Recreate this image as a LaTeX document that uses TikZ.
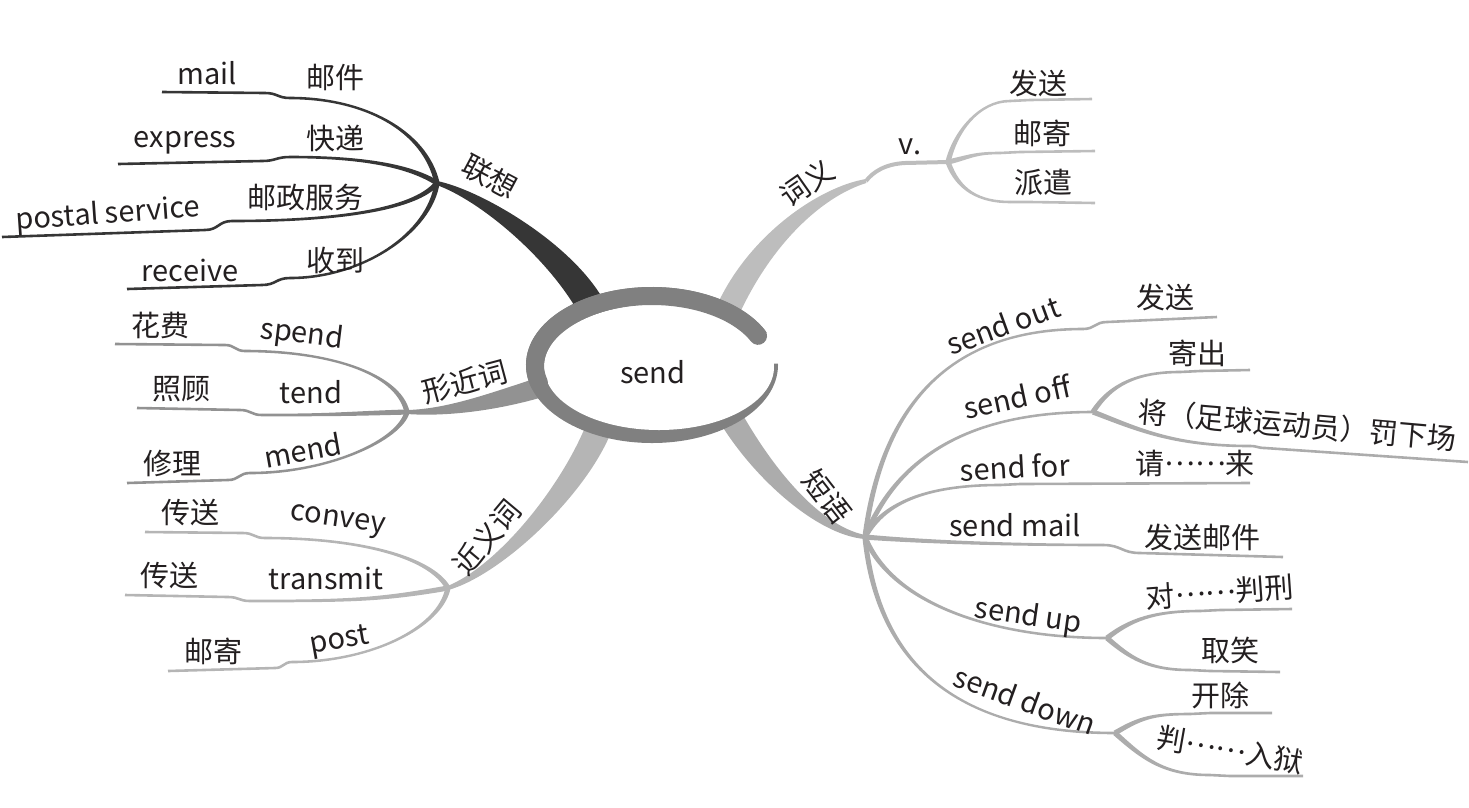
\documentclass[tikz,border=0pt]{standalone}
\usepackage{fontspec}
\setmainfont{Noto Sans CJK SC}
\usetikzlibrary{calc}

\definecolor{ink}{HTML}{231F20}
\definecolor{ringgray}{HTML}{808080}
\definecolor{lianxiang}{HTML}{363636}
\definecolor{xingjin}{HTML}{929292}
\definecolor{jinyi}{HTML}{B5B5B5}
\definecolor{ciyi}{HTML}{BDBDBD}
\definecolor{duanyu}{HTML}{ACACAC}

\tikzset{
  word/.style={font=\fontsize{29}{34}\selectfont, text=ink, inner sep=0pt},
}

% tapered stroke: colour, end A, ctrl, ctrl, end B, half widths at A, ctrl, B
\newcommand{\mmtaper}[8]{%
  \fill[#1] ($(#2)!#6!90:(#3)$) .. controls ($(#3)!#7!-90:(#2)$) and ($(#4)!#8!90:(#5)$) .. ($(#5)!#8!-90:(#4)$)
    -- ($(#5)!#8!90:(#4)$) .. controls ($(#4)!#8!-90:(#5)$) and ($(#3)!#7!90:(#2)$) .. ($(#2)!#6!-90:(#3)$) -- cycle;}

% leaf line: colour, hub, ctrl, name (uses name j, name k, name e)
\newcommand{\mmleaf}[4]{%
  \coordinate (q) at ($(#4j)!0.5!(#4j-|#2)$);
  \coordinate (m) at ($(#4j)!0.5!(#4k)$);
  \mmtaper{#1}{#2}{#3}{q}{#4j}{2.6pt}{2.2pt}{1.3pt}
  \draw[#1, line width=2.6pt] (#4j) .. controls (m|-#4j) and (m|-#4k) .. (#4k) -- (#4e);}

% raised dots
\newcommand{\mdots}{\raisebox{.3em}{……}}

\begin{document}
\begin{tikzpicture}[x=1pt,y=-1pt]
\useasboundingbox (0,0) rectangle (1469,807);

% hubs and roots
\coordinate (lxhub) at (437,183);  \coordinate (lxroot) at (592,308);
\coordinate (xjhub) at (407,412);  \coordinate (xjroot) at (548,385);
\coordinate (jyhub) at (448,588);  \coordinate (jyroot) at (600,425);
\coordinate (cyhub) at (948,162);  \coordinate (cyknee) at (866,181);
\coordinate (cyroot) at (728,310);
\coordinate (dyhub) at (865,537);  \coordinate (dyroot) at (722,402);

% trunks
\mmtaper{lianxiang}{lxhub}{480,195}{560,250}{lxroot}{2pt}{5pt}{14pt}
\mmtaper{xingjin}{xjhub}{450,413}{500,400}{xjroot}{2pt}{4pt}{10pt}
\mmtaper{jinyi}{jyhub}{500,570}{575,490}{jyroot}{2pt}{5pt}{13pt}
\mmtaper{ciyi}{cyknee}{820,192}{760,240}{cyroot}{2pt}{5pt}{12pt}
\mmtaper{duanyu}{dyhub}{815,530}{755,465}{dyroot}{2pt}{5pt}{12pt}
\draw[ciyi, line width=4pt] (cyknee) .. controls (873,172) and (885,164) .. (905,163) -- (cyhub);

% leaves
\foreach \w/\c/\j/\k/\e in {mail/{425,130}/{290,98}/{265,93}/{162,92},
    express/{410,166}/{290,157}/{262,161}/{118,164},
    postal/{415,210}/{232,221}/{205,230}/{2,237},
    receive/{430,232}/{290,278}/{262,285}/{127,289}}{
  \coordinate (\w j) at (\j); \coordinate (\w k) at (\k); \coordinate (\w e) at (\e);
  \mmleaf{lianxiang}{lxhub}{\c}{\w}}
\foreach \w/\c/\j/\k/\e in {spend/{398,372}/{245,351}/{225,345}/{115,344},
    tend/{340,414}/{262,415}/{240,410}/{137,408},
    mend/{400,440}/{250,473}/{228,480}/{127,483}}{
  \coordinate (\w j) at (\j); \coordinate (\w k) at (\k); \coordinate (\w e) at (\e);
  \mmleaf{xingjin}{xjhub}{\c}{\w}}
\foreach \w/\c/\j/\k/\e in {convey/{430,556}/{265,538}/{243,533}/{145,532},
    transmit/{380,600}/{250,601}/{228,597}/{125,595},
    post/{440,628}/{292,662}/{275,668}/{168,671}}{
  \coordinate (\w j) at (\j); \coordinate (\w k) at (\k); \coordinate (\w e) at (\e);
  \mmleaf{jinyi}{jyhub}{\c}{\w}}
\foreach \w/\c/\j/\k/\e in {fasong/{955,132}/{1010,101}/{1030,100}/{1092,99},
    youji/{970,157}/{1000,153}/{1020,152}/{1095,151},
    paiqian/{958,190}/{1010,202}/{1030,202}/{1095,203}}{
  \coordinate (\w j) at (\j); \coordinate (\w k) at (\k); \coordinate (\w e) at (\e);
  \mmleaf{ciyi}{cyhub}{\c}{\w}}
\foreach \w/\c/\j/\k/\e in {sendout/{885,380}/{1083,329}/{1107,322}/{1217,317},
    sendoff/{900,450}/{1093,412}/{1093,412}/{1093,412},
    sendfor/{885,500}/{1000,485}/{1020,484}/{1250,483},
    sendmail/{900,540}/{1103,545}/{1140,553}/{1283,557},
    sendup/{890,600}/{1107,638}/{1107,638}/{1107,638},
    senddown/{880,690}/{1115,733}/{1115,733}/{1115,733}}{
  \coordinate (\w j) at (\j); \coordinate (\w k) at (\k); \coordinate (\w e) at (\e);
  \mmleaf{duanyu}{dyhub}{\c}{\w}}
\foreach \h/\w/\c/\j/\k/\e in {sendoffj/jichu/{1110,385}/{1180,372}/{1200,371}/{1250,370},
    sendoffj/faxia/{1135,428}/{1250,446}/{1265,448}/{1468,462},
    sendupj/panxing/{1130,620}/{1200,611}/{1220,610}/{1292,609},
    sendupj/quxiao/{1130,658}/{1190,670}/{1210,671}/{1280,672},
    senddownj/kaichu/{1140,718}/{1190,714}/{1210,713}/{1272,713},
    senddownj/ruyu/{1143,758}/{1210,775}/{1230,776}/{1303,776}}{
  \coordinate (\w j) at (\j); \coordinate (\w k) at (\k); \coordinate (\w e) at (\e);
  \mmleaf{duanyu}{\h}{\c}{\w}}

% centre
\coordinate (c) at (652,365);
\fill[ringgray] (c) ellipse [x radius=126pt, y radius=78pt];
\fill[white] (659,367) ellipse [x radius=115pt, y radius=63pt];
\fill[white] (c) -- ($(c)+(1:150pt and 95pt)$) -- ($(c)+(13:150pt and 95pt)$)
  -- ($(c)+(24:150pt and 95pt)$) -- cycle;
\draw[ringgray, line width=18pt, line cap=round] ($(c)+(25:117pt and 69pt)$)
  arc [start angle=25, end angle=195, x radius=117pt, y radius=69pt];
\node[word] (send) at (653,372) {send};

% labels
\node[word, rotate=-28] (lxlabel) at (490,177) {联想};
\node[word] (mail) at (207,73) {mail};
\node[word] (mailcn) at (335,77) {邮件};
\node[word] (express) at (185,143) {express};
\node[word] (expresscn) at (335,138) {快递};
\node[word, rotate=4] (postal) at (108,215) {postal service};
\node[word] (postalcn) at (305,197) {邮政服务};
\node[word] (receive) at (190,270) {receive};
\node[word] (receivecn) at (335,260) {收到};

\node[word, rotate=15] (xjlabel) at (465,382) {形近词};
\node[word] (spendcn) at (160,325) {花费};
\node[word, rotate=-7] (spend) at (302,335) {spend};
\node[word] (tendcn) at (181,389) {照顾};
\node[word] (tend) at (311,392) {tend};
\node[word] (mendcn) at (172,463) {修理};
\node[word, rotate=10] (mend) at (303,450) {mend};

\node[word, rotate=50] (jylabel) at (487,537) {近义词};
\node[word] (conveycn) at (190,512) {传送};
\node[word, rotate=-8] (convey) at (338,522) {convey};
\node[word] (transmitcn) at (169,575) {传送};
\node[word] (transmit) at (326,578) {transmit};
\node[word] (postcn) at (213,651) {邮寄};
\node[word, rotate=10] (post) at (340,642) {post};

\node[word, rotate=35] (cylabel) at (807,183) {词义};
\node[word] (v) at (910,147) {v.};
\node[word] (fasong) at (1038,83) {发送};
\node[word] (youji) at (1042,133) {邮寄};
\node[word] (paiqian) at (1043,183) {派遣};

\node[word, rotate=-52] (dylabel) at (827,497) {短语};
\node[word, rotate=20] (sendout) at (1003,325) {send out};
\node[word] (sendoutcn) at (1165,297) {发送};
\node[word, rotate=12] (sendoff) at (1017,397) {send off};
\node[word] (jichucn) at (1197,353) {寄出};
\node[word, rotate=-5] (faxiacn) at (1297,425) {将（足球运动员）罚下场};
\node[word, rotate=3] (sendfor) at (1015,467) {send for};
\node[word] (sendforcn) at (1195,463) {请\mdots 来};
\node[word] (sendmail) at (1015,525) {send mail};
\node[word] (sendmailcn) at (1202,537) {发送邮件};
\node[word, rotate=-8] (sendup) at (1028,617) {send up};
\node[word, rotate=4] (panxingcn) at (1220,592) {对\mdots 判刑};
\node[word] (quxiaocn) at (1230,650) {取笑};
\node[word, rotate=-20] (senddown) at (1025,700) {send down};
\node[word] (kaichucn) at (1220,695) {开除};
\node[word, rotate=-10] (ruyucn) at (1230,750) {判\mdots 入狱};
\end{tikzpicture}
\end{document}
